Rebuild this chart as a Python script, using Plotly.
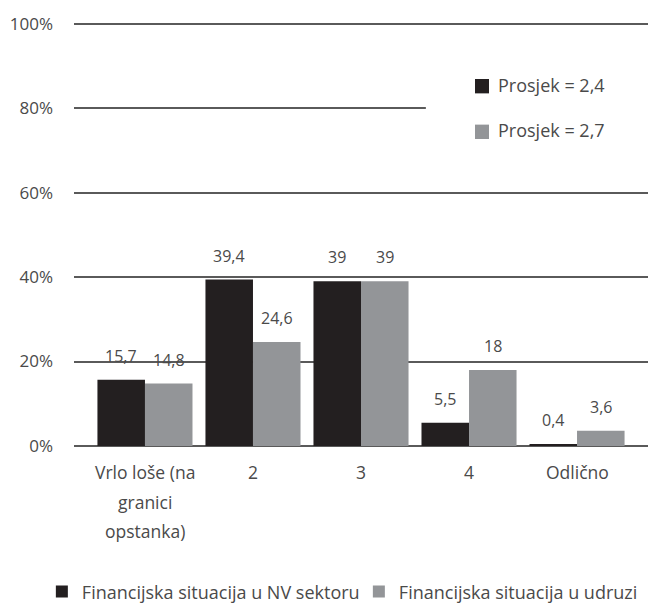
import plotly.graph_objects as go

categories = ["Vrlo loše (na\ngranici\nopstanka)", "2", "3", "4", "Odlično"]
nv_sektor = [15.7, 39.4, 39.0, 5.5, 0.4]
udruga = [14.8, 24.6, 39.0, 18.0, 3.6]
series_names = ["Financijska situacija u NV sektoru", "Financijska situacija u udruzi"]
prosjek_labels = ["Prosjek = 2,4", "Prosjek = 2,7"]
y_ticks = [0, 20, 40, 60, 80, 100]
y_ticktext = [f"{v}%" for v in y_ticks]

colors = ["#231f20", "#939598"]
FONT = "Open Sans"
TXT = "#4a4a4a"

x = list(range(len(categories)))

fig = go.Figure()
for name, vals, col in zip(series_names, [nv_sektor, udruga], colors):
    fig.add_trace(go.Bar(x=x, y=vals, name=name, marker=dict(color=col, line=dict(width=0))))

def fmt(v):
    return f"{v:g}".replace(".", ",")

annotations = []
half = 0.22
for offs, vals in zip([-half, half], [nv_sektor, udruga]):
    for xi, v in zip(x, vals):
        annotations.append(dict(x=xi + offs, y=v, xref="x", yref="y", text=fmt(v),
                                showarrow=False, yanchor="bottom", yshift=11,
                                font=dict(family=FONT, size=16, color=TXT)))

# category labels (one annotation per line for the wider line spacing)
for xi, cat in zip(x, categories):
    for k, line in enumerate(cat.split("\n")):
        annotations.append(dict(x=xi, y=0, xref="x", yref="y", text=line, showarrow=False,
                                xanchor="center", yanchor="middle", yshift=-(26 + 29.5 * k),
                                font=dict(family=FONT, size=17.5, color=TXT)))

# "Prosjek" box
shapes = [dict(type="rect", xref="paper", yref="y", x0=0.613, x1=1.0, y0=66, y1=95,
               fillcolor="white", line=dict(width=0), layer="above")]
for lab, col, yc in zip(prosjek_labels, colors, [85.6, 74.8]):
    shapes.append(dict(type="rect", xref="paper", yref="y", x0=0.6986, x1=0.7230,
                       y0=yc - 2.1, y1=yc + 1.3, fillcolor=col, line=dict(width=0), layer="above"))
    annotations.append(dict(x=0.735, y=yc, xref="paper", yref="y", text=lab, showarrow=False,
                            xanchor="left", yanchor="middle",
                            font=dict(family=FONT, size=18, color=TXT)))

fig.update_layout(
    width=648, height=604,
    margin=dict(l=74, r=0, t=22, b=158, autoexpand=False),
    paper_bgcolor="white", plot_bgcolor="white",
    barmode="group", bargap=0.12, bargroupgap=0,
    font=dict(family=FONT, size=16, color=TXT),
    showlegend=True,
    legend=dict(orientation="h", x=-0.056, xanchor="left", y=-0.344, yanchor="middle",
                font=dict(family=FONT, size=18, color=TXT), itemwidth=30,
                traceorder="normal", entrywidth=272),
    xaxis=dict(range=[-0.657, 4.657], tickvals=x, showticklabels=False, showgrid=False,
               zeroline=False, showline=False, ticks="", automargin=False),
    yaxis=dict(range=[0, 100.4], tickvals=y_ticks, ticktext=y_ticktext, showgrid=True,
               gridcolor="#5a5a5a", gridwidth=1.5, zeroline=True, zerolinecolor="#5a5a5a",
               zerolinewidth=1.5, ticks="", ticklabelstandoff=20, automargin=False,
               tickfont=dict(family=FONT, size=17, color=TXT)),
    annotations=annotations,
    shapes=shapes,
)

fig.write_html("out.html", config={"displayModeBar": False},
               post_script="document.body.style.margin='0';document.body.style.overflow='hidden';")
